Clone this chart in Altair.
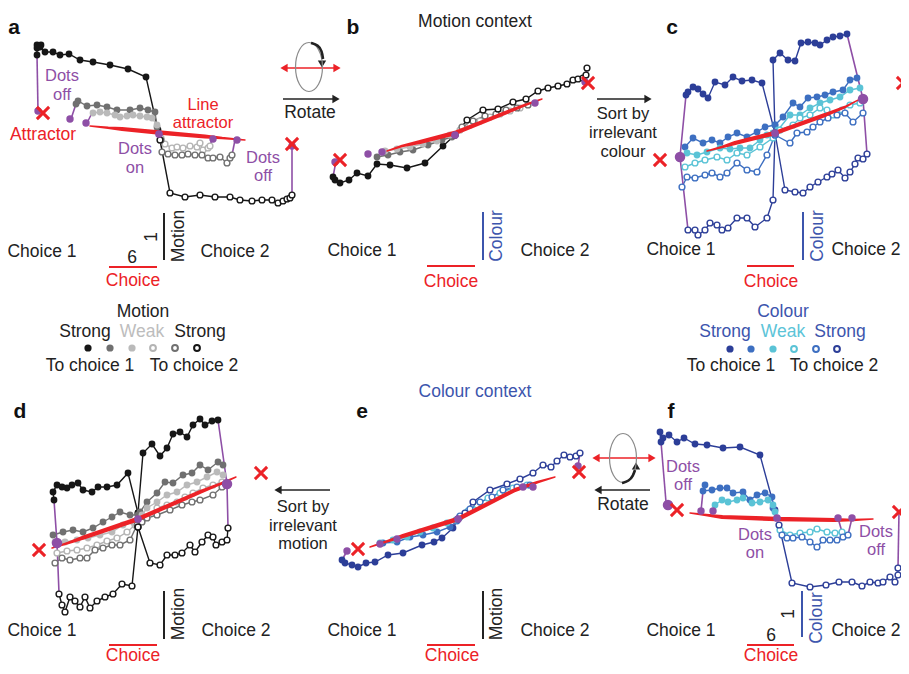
import altair as alt
import pandas as pd

# ------------------------------------------------------------------
# Figure frame: values are read off the 909x674 reference (x right, y down)
# ------------------------------------------------------------------
FONT = "Liberation Sans"
INK = "#222222"
RED = "#ec2227"
PURPLE = "#8e4fa6"
BLUE_TXT = "#3c55ad"
GREY = {"s1": "#161616", "m1": "#707070", "w1": "#bababa", "w2": "#b4b4b4", "m2": "#707070", "s2": "#161616"}
BLUE = {"s1": "#2c3e98", "m1": "#3d6fc1", "w1": "#5ac3d6", "w2": "#5ac3d6", "m2": "#3d6fc1", "s2": "#2c3e98"}
PALETTE = {"a": GREY, "b": GREY, "c": BLUE, "d": GREY, "e": BLUE, "f": BLUE}
TO_CHOICE_1 = ["s1", "m1", "w1"]
CONDITIONS = ["s1", "m1", "w1", "w2", "m2", "s2"]

# ---------------- trajectories (population responses) ----------------
a_s1 = [(158,130),(146,77),(128,69),(110,65),(93,62),(80,60),(69,54),(60,55),(53,52),(45,52),(40,47),(37,45),(41,45),(37,48),(37,55)]
a_m1 = [(157,127),(155,112),(148,110),(140,108),(130,110),(117,110),(107,107),(97,105),(87,106),(78,101),(76,104)]
a_w1 = [(157,125),(152,118),(147,117),(140,116),(133,115),(127,116),(120,117),(115,115),(107,113),(100,112),(93,113)]
a_w2 = [(161,138),(165,144),(172,148),(177,147),(183,148),(190,146),(197,147),(200,143),(203,150),(208,148),(210,146)]
a_m2 = [(161,140),(162,152),(168,154),(175,155),(182,155),(188,154),(195,155),(202,155),(208,158),(213,158),(220,157),(227,163),(230,158),(232,155)]
a_s2 = [(160,140),(170,193),(185,197),(200,195),(215,197),(230,197),(240,200),(252,201),(262,200),(272,200),(278,203),(283,201),(287,199),(290,198),(292,195)]

b_s1 = [(455,135),(443,146),(425,163),(407,168),(390,165),(377,164),(368,176),(357,173),(349,180),(340,183),(335,180),(333,177)]
b_m1 = [(452,137),(442,140),(428,145),(413,150),(400,152),(388,155),(377,157)]
b_w1 = [(450,135),(437,141),(423,144),(410,147),(397,149),(385,151)]
b_w2 = [(460,130),(470,125),(480,121),(490,117),(500,114),(510,111),(520,108)]
b_m2 = [(462,127),(473,121),(485,116),(496,114),(506,110),(517,108),(528,105)]
b_s2 = [(455,135),(467,120),(483,110),(498,109),(513,102),(526,99),(538,91),(548,88),(558,86),(567,84),(573,80),(578,79),(583,78),(586,75),(587,68)]

c_s1_L = [(775,133),(762,83),(752,80),(742,81),(733,77),(725,85),(715,82),(708,98),(703,94),(698,89),(693,87),(688,92),(686,95)]
c_s1_R = [(775,133),(773,60),(780,53),(788,60),(795,61),(801,43),(808,42),(815,43),(820,45),(827,40),(833,37),(840,36),(847,34)]
c_m1_L = [(775,125),(765,127),(757,132),(747,137),(737,133),(728,137),(720,143),(712,140),(703,143),(693,138),(685,147)]
c_m1_R = [(775,125),(783,117),(793,103),(800,107),(808,98),(817,97),(825,95),(833,92),(843,90),(850,80),(857,78)]
c_w1_L = [(773,133),(767,135),(760,140),(750,148),(740,148),(730,149),(720,148),(707,152),(697,155),(687,153)]
c_w1_R = [(778,130),(790,115),(800,115),(810,108),(820,103),(830,100),(840,97),(850,90),(860,88)]
c_w2_L = [(773,138),(760,147),(747,155),(737,153),(727,160),(717,157),(705,160),(695,163),(685,167)]
c_w2_R = [(780,130),(793,125),(800,118),(810,115),(820,108),(827,110),(833,115),(842,110),(850,105),(860,103)]
c_m2_L = [(775,135),(767,155),(757,172),(747,170),(737,163),(727,173),(720,177),(712,173),(705,175),(695,178),(687,177),(682,187)]
c_m2_R = [(775,135),(790,143),(797,133),(807,132),(813,127),(820,122),(828,118),(837,115),(845,113),(853,122),(863,113)]
c_s2_L = [(775,133),(773,200),(767,218),(755,227),(747,218),(737,218),(728,228),(722,230),(717,225),(710,223),(705,230),(698,235),(695,230),(688,230)]
c_s2_R = [(775,133),(785,190),(795,192),(803,193),(810,187),(818,182),(827,177),(832,174),(838,170),(845,178),(850,172),(855,164),(858,158),(863,159),(867,154)]

d_s1_L = [(138,513),(128,473),(117,485),(107,487),(98,487),(92,492),(83,490),(78,483),(72,485),(67,488),(62,487),(57,485),(53,492),(54,500)]
d_s1_R = [(138,513),(143,453),(152,444),(160,456),(167,448),(173,434),(180,432),(187,437),(193,425),(200,419),(205,425),(212,421),(218,420)]
d_m1_L = [(138,515),(130,515),(120,512),(112,517),(103,522),(93,528),(83,532),(73,530),(63,532),(53,535)]
d_m1_R = [(140,512),(147,502),(157,493),(165,482),(173,483),(183,475),(192,473),(200,465),(208,470),(218,462),(223,465)]
d_w1_L = [(137,520),(133,522),(123,525),(112,532),(100,535),(88,538),(77,540),(65,542),(55,542)]
d_w1_R = [(142,515),(147,508),(157,502),(167,495),(177,492),(187,485),(197,482),(207,477),(217,472),(223,475)]
d_w2_L = [(137,523),(135,525),(127,532),(117,538),(107,541),(97,545),(87,548),(77,550),(67,551),(57,553)]
d_w2_R = [(142,520),(147,517),(157,508),(167,505),(177,502),(185,497),(193,493),(203,488),(213,485),(222,482)]
d_m2_L = [(137,525),(130,540),(120,545),(112,545),(103,548),(95,550),(87,558),(80,558),(70,560),(62,558),(55,563)]
d_m2_R = [(142,522),(147,518),(157,515),(170,510),(182,505),(192,502),(200,500),(213,495),(222,487)]
d_s2_L = [(138,527),(132,586),(122,584),(113,594),(105,597),(97,601),(90,608),(85,597),(80,607),(75,601),(70,597),(65,612),(62,605),(59,594)]
d_s2_R = [(138,527),(150,563),(160,565),(167,555),(175,555),(182,553),(190,545),(195,552),(202,542),(208,535),(213,537),(216,545),(222,542),(227,540),(228,528)]

e_s1 = [(458,519),(453,528),(442,538),(434,542),(422,545),(403,553),(388,555),(375,562),(366,563),(358,567),(352,565),(345,563),(342,560)]
e_m1 = [(457,521),(450,527),(437,532),(423,535),(410,537),(397,542),(383,543)]
e_w1 = [(456,520),(447,523),(433,528),(420,532),(407,537),(393,540),(380,543)]
e_w2 = [(460,517),(468,511),(477,505),(488,498),(500,493),(513,488),(527,485)]
e_m2 = [(460,516),(470,509),(480,502),(492,497),(503,490),(517,487),(530,485)]
e_s2 = [(458,519),(465,513),(473,502),(490,490),(507,484),(520,479),(533,473),(543,465),(551,467),(557,461),(564,455),(570,457),(576,456),(580,453)]

f_s1 = [(775,510),(760,455),(740,447),(723,448),(707,445),(695,444),(684,438),(677,442),(669,435),(663,438),(660,432),(661,442)]
f_m1 = [(773,508),(772,497),(765,493),(757,495),(750,500),(743,492),(733,493),(727,488),(720,488),(712,490),(703,491),(705,485)]
f_w1 = [(775,512),(773,505),(768,500),(760,502),(752,503),(743,498),(737,500),(728,502),(722,500),(715,505)]
f_w2 = [(780,530),(790,535),(800,533),(810,532),(817,529),(827,532),(835,533),(842,532)]
f_m2 = [(782,535),(787,538),(793,538),(802,537),(810,542),(817,547),(823,540),(830,540),(837,540),(843,537),(848,535)]
f_s2 = [(779,525),(792,583),(810,587),(826,585),(839,582),(852,582),(862,586),(870,582),(878,583),(883,582),(890,577),(895,582),(898,575),(898,568)]

TRAJECTORIES = [
    ("a", "s1", a_s1), ("a", "m1", a_m1), ("a", "w1", a_w1), ("a", "w2", a_w2), ("a", "m2", a_m2), ("a", "s2", a_s2),
    ("b", "s1", b_s1), ("b", "m1", b_m1), ("b", "w1", b_w1), ("b", "w2", b_w2), ("b", "m2", b_m2), ("b", "s2", b_s2),
    ("c", "s1", c_s1_L), ("c", "s1", c_s1_R), ("c", "m1", c_m1_L), ("c", "m1", c_m1_R), ("c", "w1", c_w1_L), ("c", "w1", c_w1_R),
    ("c", "w2", c_w2_L), ("c", "w2", c_w2_R), ("c", "m2", c_m2_L), ("c", "m2", c_m2_R), ("c", "s2", c_s2_L), ("c", "s2", c_s2_R),
    ("d", "s1", d_s1_L), ("d", "s1", d_s1_R), ("d", "m1", d_m1_L), ("d", "m1", d_m1_R), ("d", "w1", d_w1_L), ("d", "w1", d_w1_R),
    ("d", "w2", d_w2_L), ("d", "w2", d_w2_R), ("d", "m2", d_m2_L), ("d", "m2", d_m2_R), ("d", "s2", d_s2_L), ("d", "s2", d_s2_R),
    ("e", "s1", e_s1), ("e", "m1", e_m1), ("e", "w1", e_w1), ("e", "w2", e_w2), ("e", "m2", e_m2), ("e", "s2", e_s2),
    ("f", "s1", f_s1), ("f", "m1", f_m1), ("f", "w1", f_w1), ("f", "w2", f_w2), ("f", "m2", f_m2), ("f", "s2", f_s2),
]

# "dots off" segments and purple state markers
PURPLE_SEGMENTS = [
    [(37,55),(38,111)], [(76,104),(71,119)], [(92,113),(87,123)], [(210,146),(212,139)], [(232,155),(235,140)], [(292,195),(292,146)],
    [(333,177),(336,161)], [(587,68),(585,82)],
    [(686,95),(680,157),(688,230)], [(847,34),(863,99),(867,154)],
    [(54,500),(57,543),(59,593)], [(218,420),(227,484),(228,527)],
    [(342,560),(347,551)], [(580,453),(578,466)],
    [(661,442),(666,502)], [(703,491),(701,511)], [(842,532),(838,518)], [(848,535),(852,518)], [(898,568),(899,512)],
]
PURPLE_DOTS = [
    (38,111,"end"),(70,119,"end"),(86,123,"end"),(213,139,"end"),(237,140,"end"),(292,146,"end"),(159,134,"center"),
    (335,162,"end"),(368,154,"end"),(382,152,"end"),(535,103,"end"),(585,82,"end"),(455,135,"center"),
    (680,157,"cluster"),(863,99,"cluster"),(775,133,"center"),
    (57,543,"cluster"),(227,484,"cluster"),(138,519,"center"),
    (347,551,"end"),(380,544,"end"),(397,539,"end"),(523,487,"end"),(533,487,"end"),(578,466,"end"),(458,519,"center"),
    (668,505,"cluster"),(701,511,"end"),(713,511,"end"),(838,518,"end"),(852,518,"end"),(777,518,"center"),
]
PURPLE_DOT_SIZE = {"end": 55, "center": 60, "cluster": 110}

# line attractors (red) and fixed points (red crosses)
ATTRACTORS = {
    "a": [(90,126),(108,127.8),(122,129),(159,132.5),(205,136.5),(222,138),(245,140)],
    "b": [(387,151),(402,146),(420,142),(455,133),(505,113),(525,105),(542,99)],
    "c": [(707,151),(722,147),(735,143),(775,133),(825,115),(845,107),(860,99)],
    "d": [(52,548),(68,543),(85,537),(138,519),(200,492),(220,484),(236,477)],
    "e": [(370,547),(388,541),(403,536),(458,519),(515,490),(538,482),(555,477)],
    "f": [(690,513),(706,515),(722,517),(777,519),(835,520),(853,520),(873,519)],
}
ATTRACTOR_WIDTH = [1.4, 2.5, 4, 4.5, 4, 2.5, 1.4]
FIXED_POINTS = [(43,113),(292,144),(340,160),(588,83),(660,160),(903,83),
                (39,550),(261,473),(358,549),(579,472),(677,510),(899,512)]

# scale bars: (x, y, x2, y2, colour)
SCALE_BARS = [
    (164,213,164,260,INK), (109,267,157,267,RED),
    (483,212,483,260,BLUE_TXT), (427,266,475,266,RED),
    (803,212,803,260,BLUE_TXT), (747,266,794,266,RED),
    (164,591,164,639,INK), (109,645,157,645,RED),
    (483,591,483,639,INK), (427,645,475,645,RED),
    (802,591,802,637,BLUE_TXT), (747,645,794,645,RED),
]

# arrows between panels
ARROW_SHAFTS = [
    (283,99,333,99,INK), (597,99,645,99,INK), (330,490,281,490,INK), (650,490,601,490,INK),
    (286,68,334,68,RED), (598,458,649,458,RED),
]
ARROW_HEADS = [
    (336,99,"triangle-right",INK), (648,99,"triangle-right",INK), (278,490,"triangle-left",INK), (598,490,"triangle-left",INK),
    (284,68,"triangle-left",RED), (337,68,"triangle-right",RED), (596,458,"triangle-left",RED), (652,458,"triangle-right",RED),
    (322,64,"triangle-down",INK), (636,466,"triangle-up",INK),
]
ROTATION_ARCS = [[(311,43),(318,45),(322,51),(323,59)], [(622,483),(629,481),(633,476),(635,470)]]
ROTATION_ELLIPSES = [(309,67), (623,458)]

# texts: (x, y, text, colour)
TEXTS = [
    (475,22,"Motion context",INK), (475,392,"Colour context",BLUE_TXT),
    (43,135,"Attractor",RED),
    (310,113,"Rotate",INK), (623,505,"Rotate",INK),
    (42,252,"Choice 1",INK), (235,252,"Choice 2",INK), (362,251,"Choice 1",INK), (555,251,"Choice 2",INK),
    (681,250,"Choice 1",INK), (866,250,"Choice 2",INK),
    (42,631,"Choice 1",INK), (236,631,"Choice 2",INK), (362,631,"Choice 1",INK), (555,631,"Choice 2",INK),
    (681,631,"Choice 1",INK), (866,631,"Choice 2",INK),
    (133,281,"Choice",RED), (451,282,"Choice",RED), (771,282,"Choice",RED),
    (133,656,"Choice",RED), (452,656,"Choice",RED), (771,656,"Choice",RED),
    (132,258,"6",INK), (771,636,"6",INK),
    (143,312,"Motion",INK), (85,332,"Strong",INK), (142,332,"Weak","#bdbdbd"), (200,332,"Strong",INK),
    (90,366,"To choice 1",INK), (194,366,"To choice 2",INK),
    (783,312,"Colour",BLUE_TXT), (725,332,"Strong",BLUE_TXT), (783,332,"Weak","#5cc4d8"), (840,332,"Strong",BLUE_TXT),
    (731,366,"To choice 1",INK), (834,366,"To choice 2",INK),
]
# stacked labels: (x, y of the block's middle, lines, colour)
STACKED = [
    (62,85.5,["Dots","off"],PURPLE), (135,158.5,["Dots","on"],PURPLE), (263,167,["Dots","off"],PURPLE),
    (203,113.8,["Line","attractor"],RED),
    (623,133,["Sort by","irrelevant","colour"],INK), (303,525.5,["Sort by","irrelevant","motion"],INK),
    (683,476,["Dots","off"],PURPLE), (755,544,["Dots","on"],PURPLE), (876,541,["Dots","off"],PURPLE),
]
STACK_GAP = 18.6
ROTATED_TEXTS = [
    (179,236,"Motion",INK), (152,237,"1",INK), (497,236,"Colour",BLUE_TXT), (818,236,"Colour",BLUE_TXT),
    (179,614,"Motion",INK), (497,614,"Motion",INK), (817,618,"Colour",BLUE_TXT), (789,614,"1",INK),
]
PANEL_LETTERS = [(14,28,"a"),(353,28,"b"),(672,28,"c"),(20,412,"d"),(362,412,"e"),(671,412,"f")]

LEGEND_MOTION_X = [88,110,132,153,175,197]
LEGEND_MOTION_Y = 348
LEGEND_COLOUR_X = [730,751,773,794,816,837]
LEGEND_COLOUR_Y = 349

# ------------------------------------------------------------------
XS = alt.Scale(domain=[8, 901], nice=False, zero=False)
YS = alt.Scale(domain=[8, 666], nice=False, zero=False, reverse=True)


def X(f="x"):
    return alt.X(f"{f}:Q", scale=XS, axis=None)


def Y(f="y"):
    return alt.Y(f"{f}:Q", scale=YS, axis=None)


rows = []
for tid, (panel, cond, pts) in enumerate(TRAJECTORIES):
    for i, (x, y) in enumerate(pts):
        rows.append({"tid": tid, "i": i, "x": x, "y": y,
                     "color": PALETTE[panel][cond], "filled": cond in TO_CHOICE_1})
traj = pd.DataFrame(rows)

legend_rows = []
for xs, yy, pal in [(LEGEND_MOTION_X, LEGEND_MOTION_Y, GREY), (LEGEND_COLOUR_X, LEGEND_COLOUR_Y, BLUE)]:
    for x, c in zip(xs, CONDITIONS):
        legend_rows.append({"x": x, "y": yy, "color": pal[c], "filled": c in TO_CHOICE_1})
legend = pd.DataFrame(legend_rows)

stack_rows = []
for x, ym, lines, col in STACKED:
    n = len(lines)
    for k, t in enumerate(lines):
        stack_rows.append({"x": x, "y": ym + (k - (n - 1) / 2) * STACK_GAP, "text": t, "color": col})
stexts = pd.DataFrame(stack_rows)

seg = pd.DataFrame([{"sid": s, "i": i, "x": x, "y": y}
                    for s, pts in enumerate(PURPLE_SEGMENTS) for i, (x, y) in enumerate(pts)])
pdots = pd.DataFrame([{"x": x, "y": y, "s": PURPLE_DOT_SIZE[k]} for x, y, k in PURPLE_DOTS])
attr = pd.DataFrame([{"panel": p, "i": i, "x": x, "y": y, "w": ATTRACTOR_WIDTH[i]}
                     for p, pts in ATTRACTORS.items() for i, (x, y) in enumerate(pts)])
fixed = pd.DataFrame(FIXED_POINTS, columns=["x", "y"])
bars = pd.DataFrame(SCALE_BARS, columns=["x", "y", "x2", "y2", "color"])
shafts = pd.DataFrame(ARROW_SHAFTS, columns=["x", "y", "x2", "y2", "color"])
heads = pd.DataFrame(ARROW_HEADS, columns=["x", "y", "shape", "color"])
arcs = pd.DataFrame([{"aid": a, "i": i, "x": x, "y": y}
                     for a, pts in enumerate(ROTATION_ARCS) for i, (x, y) in enumerate(pts)])
ell = pd.DataFrame(ROTATION_ELLIPSES, columns=["x", "y"])
texts = pd.DataFrame(TEXTS, columns=["x", "y", "text", "color"])
rtexts = pd.DataFrame(ROTATED_TEXTS, columns=["x", "y", "text", "color"])
letters = pd.DataFrame(PANEL_LETTERS, columns=["x", "y", "text"])

ELLIPSE_PATH = ("M0,-1 C0.304,-1 0.55,-0.552 0.55,0 C0.55,0.552 0.304,1 0,1 "
                "C-0.304,1 -0.55,0.552 -0.55,0 C-0.55,-0.552 -0.304,-1 0,-1 Z")
CROSS_PATH = "M-1,-1L1,1M-1,1L1,-1"
NOCOLOR = alt.Color("color:N", scale=None)

layers = [
    alt.Chart(bars).mark_rule(strokeWidth=2).encode(x=X(), y=Y(), x2="x2:Q", y2="y2:Q", color=NOCOLOR),
    alt.Chart(shafts).mark_rule(strokeWidth=1.6).encode(x=X(), y=Y(), x2="x2:Q", y2="y2:Q", color=NOCOLOR),
    alt.Chart(heads).mark_point(filled=True, size=70, opacity=1).encode(
        x=X(), y=Y(), shape=alt.Shape("shape:N", scale=None), color=NOCOLOR),
    alt.Chart(ell).mark_point(shape=ELLIPSE_PATH, size=2401, filled=False, color="#8a8a8a",
                              strokeWidth=1.2, opacity=1).encode(x=X(), y=Y()),
    alt.Chart(arcs).mark_line(interpolate="basis", strokeWidth=2.6, color=INK).encode(
        x=X(), y=Y(), detail="aid:N", order="i:Q"),
    # trajectories
    alt.Chart(traj).mark_line(strokeWidth=1.4).encode(
        x=X(), y=Y(), detail="tid:N", order="i:Q", color=NOCOLOR),
    alt.Chart(seg).mark_line(strokeWidth=1.6, color=PURPLE).encode(
        x=X(), y=Y(), detail="sid:N", order="i:Q"),
    alt.Chart(traj).transform_filter("datum.filled").mark_circle(size=46, opacity=1).encode(
        x=X(), y=Y(), color=NOCOLOR),
    alt.Chart(traj).transform_filter("!datum.filled").mark_point(
        shape="circle", filled=True, fill="white", size=34, strokeWidth=1.4, opacity=1).encode(
        x=X(), y=Y(), stroke=alt.Stroke("color:N", scale=None)),
    # line attractors
    alt.Chart(attr).mark_trail(color=RED).encode(
        x=X(), y=Y(), detail="panel:N", order="i:Q", size=alt.Size("w:Q", scale=None)),
    alt.Chart(pdots).mark_circle(color=PURPLE, opacity=1).encode(
        x=X(), y=Y(), size=alt.Size("s:Q", scale=None)),
    alt.Chart(fixed).mark_point(shape=CROSS_PATH, filled=False, color=RED, size=150,
                                strokeWidth=3, opacity=1).encode(x=X(), y=Y()),
    # legends
    alt.Chart(legend).transform_filter("datum.filled").mark_circle(size=52, opacity=1).encode(
        x=X(), y=Y(), color=NOCOLOR),
    alt.Chart(legend).transform_filter("!datum.filled").mark_point(
        shape="circle", filled=True, fill="white", size=34, strokeWidth=2, opacity=1).encode(
        x=X(), y=Y(), stroke=alt.Stroke("color:N", scale=None)),
    # texts
    alt.Chart(texts).mark_text(font=FONT, fontSize=17.5, align="center", baseline="middle").encode(
        x=X(), y=Y(), text="text:N", color=NOCOLOR),
    alt.Chart(stexts).mark_text(font=FONT, fontSize=16.5, align="center", baseline="middle").encode(
        x=X(), y=Y(), text="text:N", color=NOCOLOR),
    alt.Chart(rtexts).mark_text(font=FONT, fontSize=17.5, align="center", baseline="middle", angle=270).encode(
        x=X(), y=Y(), text="text:N", color=NOCOLOR),
    alt.Chart(letters).mark_text(font=FONT, fontSize=21, fontWeight="bold", align="center",
                                 baseline="middle", color="#111111").encode(x=X(), y=Y(), text="text:N"),
]

chart = alt.layer(*layers).properties(
    width=893, height=658, padding=0, autosize=alt.AutoSizeParams(type="none")
).configure_view(strokeWidth=0)

chart.save("out.html", embed_options={"renderer": "svg", "actions": False})
